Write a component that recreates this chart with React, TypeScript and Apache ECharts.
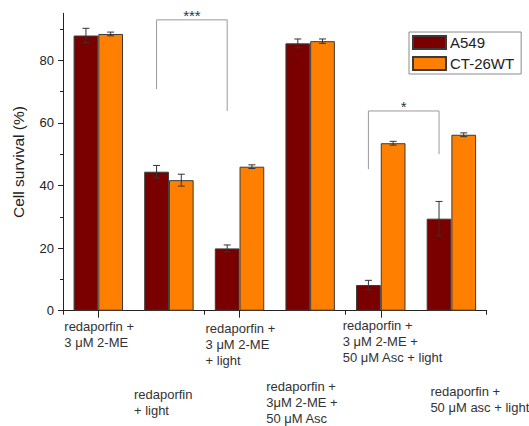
import React, { useEffect, useRef } from "react";
import * as echarts from "echarts";

const categories = [
  "redaporfin +\n3 μM 2-ME",
  "redaporfin\n+ light",
  "redaporfin +\n3 μM 2-ME\n+ light",
  "redaporfin +\n3μM 2-ME +\n50 μM Asc",
  "redaporfin +\n3 μM 2-ME +\n50 μM Asc + light",
  "redaporfin +\n50 μM asc + light",
];
const seriesNames = ["A549", "CT-26WT"];
const a549Values = [87.9, 44.4, 19.9, 85.4, 8.2, 29.4];
const a549Errors = [2.3, 2.0, 1.1, 1.4, 1.5, 5.5];
const ctValues = [88.4, 41.7, 46.0, 86.1, 53.5, 56.2];
const ctErrors = [0.6, 1.9, 0.6, 0.7, 0.6, 0.6];
const yMajorTicks = [0, 20, 40, 60, 80];
const yMinorTicks = [10, 30, 50, 70, 90];

// significance brackets: [catIndex, barSide(-1 A549, +1 CT)] endpoints, data-unit heights
const brackets = [
  { from: 1, fromSide: -1, to: 2, toSide: -1, top: 92.9, legL: 70.8, legR: 63.8, mark: "***" },
  { from: 4, fromSide: -1, to: 5, toSide: -1, top: 63.8, legL: 45.2, legR: 50.0, mark: "*" },
];

// layout of the staggered category labels (px offsets from category centre / axis line)
const labelLayout = [
  [-34, 8],
  [-35, 75.5],
  [-34, 9.5],
  [-44, 67.5],
  [-38, 6.5],
  [-21, 72.5],
];

const DARK = "#7a0000";
const ORANGE = "#ff8000";
const FONT = "Liberation Sans, Arial, sans-serif";
const BAR_FRACTION = 0.7;

function errorSeries(name: string, values: number[], errors: number[], side: number) {
  return {
    type: "custom",
    name: name + "-err",
    xAxisIndex: 0,
    yAxisIndex: 0,
    z: 5,
    silent: true,
    data: values.map((v, i) => [i, v, errors[i]]),
    encode: { x: 0, y: 1 },
    renderItem: (params: any, api: any) => {
      const idx = api.value(0);
      const mean = api.value(1);
      const err = api.value(2);
      const catW = api.size([1, 0])[0];
      const off = (side * catW * BAR_FRACTION) / 4;
      const hi = api.coord([idx, mean + err]);
      const lo = api.coord([idx, mean - err]);
      const x = hi[0] + off;
      const cap = 3.5;
      const style = { stroke: "#333", lineWidth: 1 };
      return {
        type: "group",
        children: [
          { type: "line", shape: { x1: x, y1: hi[1], x2: x, y2: lo[1] }, style },
          { type: "line", shape: { x1: x - cap, y1: hi[1], x2: x + cap, y2: hi[1] }, style },
          { type: "line", shape: { x1: x - cap, y1: lo[1], x2: x + cap, y2: lo[1] }, style },
        ],
      };
    },
  };
}

export default function App() {
  const ref = useRef<HTMLDivElement>(null);
  useEffect(() => {
    document.body.style.margin = "0";
    if (!ref.current) return;
    const chart = echarts.init(ref.current, null, { renderer: "svg" });
    const option: any = {
      animation: false,
      backgroundColor: "#fff",
      textStyle: { fontFamily: FONT },
      grid: { left: 63, right: 42.3, top: 13.3, bottom: 115.3 },
      legend: {
        data: seriesNames,
        orient: "vertical",
        left: 409,
        top: 32,
        align: "left",
        icon: "rect",
        itemWidth: 33,
        itemHeight: 13,
        itemGap: 6,
        padding: [3, 7, 3, 3],
        borderColor: "#8a8a8a",
        borderWidth: 1,
        borderRadius: 0,
        textStyle: { fontSize: 15, color: "#222", fontFamily: FONT, padding: [0, 0, 0, -1] },
      },
      xAxis: [
        {
          type: "category",
          data: categories,
          position: "bottom",
          boundaryGap: true,
          axisLine: { show: true, lineStyle: { color: "#222", width: 1 } },
          axisTick: { show: true, alignWithLabel: true, length: 7, lineStyle: { color: "#222" } },
          axisLabel: { show: false },
          splitLine: { show: false },
        },
        {
          type: "category",
          data: categories,
          position: "bottom",
          offset: 0,
          boundaryGap: true,
          axisLine: { show: false },
          axisTick: { show: true, length: 4, lineStyle: { color: "#222" } },
          axisLabel: { show: false },
          splitLine: { show: false },
        },
      ],
      yAxis: [
        {
          type: "value",
          min: 0,
          max: 95,
          interval: 20,
          position: "left",
          name: "Cell survival (%)",
          nameLocation: "middle",
          nameGap: 37,
          nameTextStyle: { fontSize: 15.5, color: "#222", fontFamily: FONT },
          axisLine: { show: true, lineStyle: { color: "#222", width: 1 } },
          axisTick: { show: true, length: 5, customValues: yMajorTicks, lineStyle: { color: "#222" } },
          axisLabel: { show: true, customValues: yMajorTicks, fontSize: 13, color: "#222", margin: 9, fontFamily: FONT },
          splitLine: { show: false },
        },
        {
          type: "value",
          min: 0,
          max: 95,
          position: "left",
          offset: 0,
          axisLine: { show: false },
          axisTick: { show: true, length: 3, customValues: yMinorTicks, lineStyle: { color: "#222" } },
          axisLabel: { show: false },
          splitLine: { show: false },
        },
      ],
      series: [
        {
          name: seriesNames[0],
          type: "bar",
          xAxisIndex: 0,
          yAxisIndex: 0,
          data: a549Values,
          barGap: "0%",
          barCategoryGap: "30%",
          itemStyle: { color: DARK, borderColor: "#3a3a3a", borderWidth: 1 },
        },
        {
          name: seriesNames[1],
          type: "bar",
          xAxisIndex: 0,
          yAxisIndex: 0,
          data: ctValues,
          barGap: "0%",
          barCategoryGap: "30%",
          itemStyle: { color: ORANGE, borderColor: "#3a3a3a", borderWidth: 1 },
        },
        errorSeries(seriesNames[0], a549Values, a549Errors, -1),
        errorSeries(seriesNames[1], ctValues, ctErrors, 1),
      ],
    };
    chart.setOption(option);

    const px = (cat: number, val: number) =>
      chart.convertToPixel({ xAxisIndex: 0, yAxisIndex: 0 } as any, [cat, val]) as number[];
    const catW = px(1, 0)[0] - px(0, 0)[0];
    const barW = (catW * BAR_FRACTION) / 2;
    const axisY = px(0, 0)[1];

    const graphics: any[] = [];
    categories.forEach((c, i) => {
      const cx = px(i, 0)[0];
      graphics.push({
        type: "text",
        x: cx + labelLayout[i][0],
        y: axisY + labelLayout[i][1],
        style: {
          text: c,
          fontSize: 13,
          lineHeight: 16,
          fill: "#333",
          fontFamily: FONT,
          align: "left",
          verticalAlign: "top",
        },
      });
    });
    brackets.forEach((b) => {
      const x1 = px(b.from, 0)[0] + (b.fromSide * barW) / 2;
      const x2 = px(b.to, 0)[0] + (b.toSide * barW) / 2;
      const yTop = px(0, b.top)[1];
      const yL = px(0, b.legL)[1];
      const yR = px(0, b.legR)[1];
      graphics.push({
        type: "polyline",
        shape: { points: [[x1, yL], [x1, yTop], [x2, yTop], [x2, yR]] },
        style: { stroke: "#9a9a9a", lineWidth: 1, fill: "none" },
      });
      graphics.push({
        type: "text",
        x: (x1 + x2) / 2,
        y: yTop - 4.5,
        style: {
          text: b.mark,
          fontSize: 15,
          fill: "#333",
          fontFamily: FONT,
          align: "center",
          verticalAlign: "middle",
        },
      });
    });
    chart.setOption({ graphic: graphics });

    return () => chart.dispose();
  }, []);
  return <div ref={ref} style={{ width: 529, height: 426 }} />;
}
